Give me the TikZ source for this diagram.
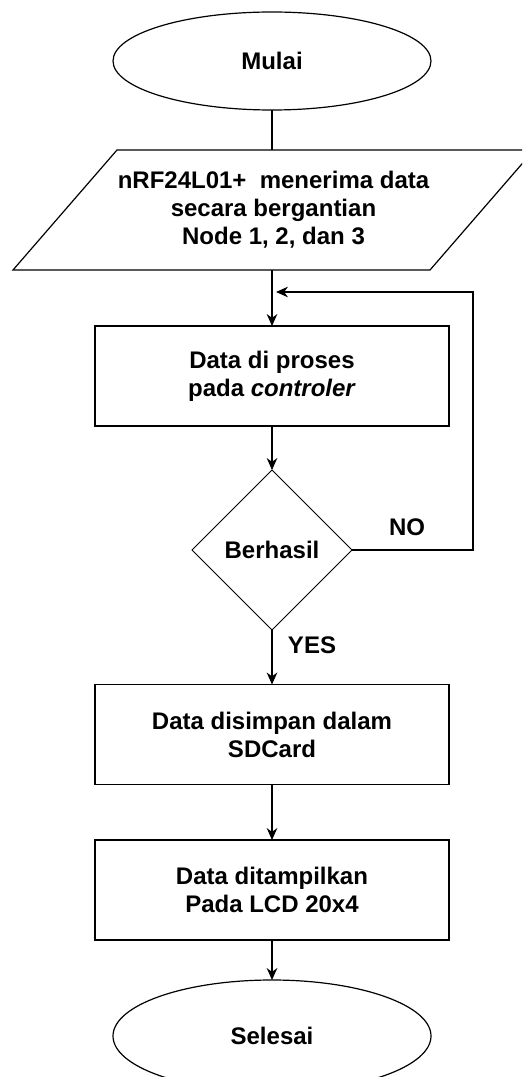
\documentclass[tikz,border=0pt]{standalone}
\usepackage{fontspec}
\setmainfont{Liberation Sans}
\usetikzlibrary{shapes.geometric,arrows.meta}
\tikzset{
  base/.style={draw, line width=0.9pt, align=center, inner sep=0pt, outer sep=0pt,
    font=\fontsize{18}{21}\selectfont\bfseries},
  termbox/.style={base, ellipse, minimum width=238.5pt, minimum height=73.5pt},
  iobox/.style={base, draw=none, rectangle, minimum width=312.75pt, minimum height=90pt},
  procbox/.style={base, rectangle, minimum width=265.5pt, minimum height=75pt},
  decbox/.style={base, diamond, line width=0.6pt, minimum width=120pt, minimum height=120pt},
  lbl/.style={font=\fontsize{18}{21}\selectfont\bfseries, inner sep=0pt},
  flow/.style={line width=0.9pt, -{Stealth[length=9pt,width=8pt]}},
  plain/.style={line width=0.9pt}
}
\begin{document}
\begin{tikzpicture}[x=0.75pt, y=-0.75pt]
			%%%%% START %%%%%
			\useasboundingbox (0,0) rectangle (522,1077);
			\clip (0,0) rectangle (522,1077);
			
			\node[termbox] (start) at (272,61) {Mulai};
			
			\node[iobox] (input) at (273.5,210) {nRF24L01+~~menerima data\\secara bergantian\\Node 1, 2, dan 3};
			\draw[plain] ([xshift=39pt]input.north west) -- ([xshift=39pt]input.north east)
				-- ([xshift=-39pt]input.south east) -- ([xshift=-39pt]input.south west) -- cycle;
			
			\node[procbox] (proc) at (272,376) {Data di proses\\pada \textit{controler}};
			\node[decbox] (dec) at (272,550) {Berhasil};
			\node[procbox] (save) at (272,734.5) {Data disimpan dalam\\SDCard};
			\node[procbox] (show) at (272,890) {Data ditampilkan\\Pada LCD 20x4};
			\node[termbox, minimum height=84pt] (stop) at (272,1036) {Selesai};
			
			\draw[plain] (start.south) -- (start.south |- input.north);
			\draw[flow] (proc.north |- input.south) -- (proc.north);
			\draw[flow] (proc.south) -- (dec.north);
			\draw[flow] (dec.south) -- (save.north);
			\draw[flow] (save.south) -- (show.north);
			\draw[flow] (show.south) -- (stop.north);
			
			\coordinate (back) at (473,292);
			\coordinate (merge) at (proc.north |- back);
			\draw[flow, shorten >=3pt] (dec.east) -| (back) -- (merge);
			
			\node[lbl] (no) at (407,527) {NO};
			\node[lbl] (yes) at (312,645) {YES};
			
			%%%%% END %%%%%
\end{tikzpicture}
\end{document}
